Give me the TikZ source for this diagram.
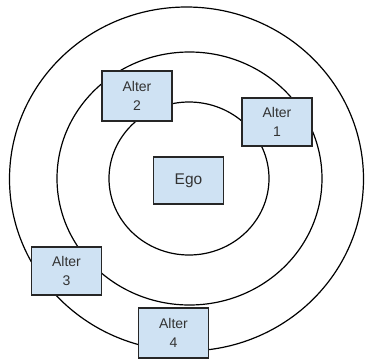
\documentclass[tikz,border=0pt]{standalone}
\usepackage{fontspec}
\setmainfont{Liberation Sans}
\begin{document}
\begin{tikzpicture}[x=1pt,y=-1pt,
  ring/.style={draw=black,line width=1.2pt},
  actor/.style={draw=black!85,fill={rgb,255:red,207;green,226;blue,243},line width=1.2pt,
    minimum width=70pt,minimum height=48pt,inner sep=0pt,align=center,
    font=\fontsize{14}{18.5}\selectfont,text={rgb,255:red,51;green,51;blue,51}}]
  \useasboundingbox (0,0) rectangle (365,360);
  % concentric rings
  \draw[ring] (186.5,179) ellipse [x radius=177,y radius=172];
  \draw[ring] (189.5,178.5) ellipse [x radius=132.5,y radius=126.5];
  \draw[ring] (189,178.5) ellipse [x radius=80,y radius=76.5];
  % ego and alters
  \node[actor,minimum height=47pt,font=\fontsize{15.5}{18}\selectfont] (ego) at (188.5,180.5) {Ego};
  \node[actor] (a1) at (277,122) {Alter\\1};
  \node[actor,minimum height=50pt] (a2) at (137,96) {Alter\\2};
  \node[actor] (a3) at (66.5,271) {Alter\\3};
  \node[actor,minimum height=50pt] (a4) at (173.5,333) {Alter\\4};
\end{tikzpicture}
\end{document}
